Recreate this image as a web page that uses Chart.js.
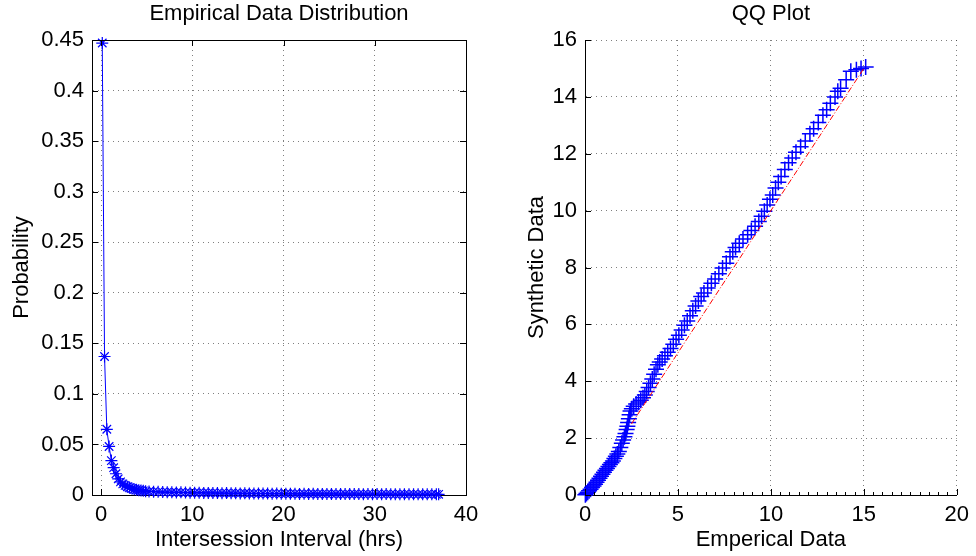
<!DOCTYPE html>
<html lang="en">
<head>
    <meta charset="UTF-8">
    <title>Empirical Data Distribution / QQ Plot</title>
    <script src="https://cdn.jsdelivr.net/npm/chart.js"></script>
    <style>
        body { margin: 0; background: #fff; overflow: hidden; width: 976px; height: 556px; position: relative; }
        canvas { position: absolute; top: 0; }
        #distChart { left: 0; }
        #qqChart { left: 488px; }
    </style>
</head>
<body>
    <canvas id="distChart" width="488" height="556"></canvas>
    <canvas id="qqChart" width="488" height="556"></canvas>

    <script>
        // Empirical distribution (left panel)
        var distX = [0.125, 0.375, 0.625, 0.875, 1.125, 1.375, 1.625, 1.875, 2.125, 2.375,
            2.625, 2.875, 3.125, 3.375, 3.625, 3.875, 4.125, 4.375, 4.625, 4.875,
            5.25, 5.75, 6.25, 6.75, 7.25, 7.75, 8.25, 8.75, 9.25, 9.75,
            10.25, 10.75, 11.25, 11.75, 12.25, 12.75, 13.25, 13.75, 14.25, 14.75,
            15.25, 15.75, 16.25, 16.75, 17.25, 17.75, 18.25, 18.75, 19.25, 19.75,
            20.25, 20.75, 21.25, 21.75, 22.25, 22.75, 23.25, 23.75, 24.25, 24.75,
            25.25, 25.75, 26.25, 26.75, 27.25, 27.75, 28.25, 28.75, 29.25, 29.75,
            30.25, 30.75, 31.25, 31.75, 32.25, 32.75, 33.25, 33.75, 34.25, 34.75,
            35.25, 35.75, 36.25, 36.75, 37.0];
        var distY = [0.447, 0.137, 0.065, 0.048, 0.034, 0.027, 0.021, 0.016, 0.013, 0.011,
            0.0095, 0.0082, 0.0072, 0.0064, 0.0057, 0.0052, 0.0048, 0.0044, 0.0041, 0.0038,
            0.0035, 0.0033, 0.0031, 0.0029, 0.0028, 0.0027, 0.0025, 0.0026, 0.0024, 0.0023,
            0.0022, 0.0023, 0.0021, 0.0020, 0.0021, 0.0019, 0.0018, 0.0019, 0.0017, 0.0018,
            0.0016, 0.0017, 0.0015, 0.0016, 0.0014, 0.0015, 0.0014, 0.0013, 0.0014, 0.0013,
            0.0012, 0.0013, 0.0012, 0.0011, 0.0012, 0.0011, 0.0012, 0.0010, 0.0011, 0.0010,
            0.0011, 0.0010, 0.0009, 0.0010, 0.0009, 0.0010, 0.0009, 0.0008, 0.0009, 0.0008,
            0.0009, 0.0008, 0.0009, 0.0008, 0.0007, 0.0008, 0.0008, 0.0007, 0.0008, 0.0007,
            0.0007, 0.0008, 0.0007, 0.0007, 0.0007];
        var distXTicks = [0, 10, 20, 30, 40];

        // QQ plot (right panel)
        var qqEmp = [0.02, 0.08, 0.15, 0.22, 0.3, 0.38, 0.46, 0.54, 0.62, 0.7,
            0.78, 0.86, 0.94, 1.02, 1.1, 1.18, 1.26, 1.34, 1.42, 1.5,
            1.58, 1.66, 1.74, 1.82, 1.9, 1.98, 2.05, 2.12, 2.18, 2.24, 2.28, 2.32,
            2.36, 2.4, 2.45, 2.52, 2.62, 2.75, 2.88, 3.0, 3.12, 3.22,
            3.32, 3.42, 3.52, 3.62, 3.72, 3.82, 3.92,
            4.02, 4.15, 4.3, 4.45, 4.6, 4.75, 4.9, 5.05, 5.2, 5.35,
            5.5, 5.65, 5.8, 5.95, 6.1, 6.25, 6.4, 6.6, 6.8, 7.0,
            7.2, 7.4, 7.6, 7.8, 7.95, 8.1, 8.3, 8.5, 8.75, 8.95,
            9.15, 9.35, 9.5, 9.65, 9.8, 9.95, 10.1, 10.25, 10.4, 10.55,
            10.75, 10.95, 11.15, 11.35, 11.6, 11.85, 12.1, 12.3, 12.55, 12.8,
            13.0, 13.2, 13.45, 13.6, 13.75, 14.05, 14.3, 14.6, 14.85, 15.1];
        var qqSyn = [0.01, 0.05, 0.1, 0.15, 0.2, 0.26, 0.32, 0.38, 0.45, 0.52,
            0.59, 0.66, 0.73, 0.8, 0.87, 0.93, 1.0, 1.07, 1.13, 1.2,
            1.28, 1.36, 1.44, 1.53, 1.67, 1.82, 1.93, 2.05, 2.16, 2.3, 2.42, 2.55,
            2.68, 2.82, 2.95, 3.03, 3.12, 3.2, 3.27, 3.33, 3.42, 3.52,
            3.64, 3.78, 3.93, 4.08, 4.25, 4.42, 4.58,
            4.68, 4.78, 4.9, 5.02, 5.15, 5.3, 5.48, 5.62, 5.8, 5.97,
            6.12, 6.3, 6.48, 6.65, 6.82, 6.98, 7.1, 7.28, 7.45, 7.6,
            7.78, 7.98, 8.15, 8.38, 8.55, 8.7, 8.85, 9.0, 9.15, 9.3,
            9.45, 9.62, 9.8, 9.98, 10.2, 10.4, 10.55, 10.8, 11.0, 11.2,
            11.45, 11.68, 11.85, 12.05, 12.25, 12.45, 12.7, 12.88, 13.1, 13.35,
            13.55, 13.78, 14.0, 14.2, 14.3, 14.6, 14.9, 14.95, 15.0, 15.05];
        var refLineX = [2.5, 15];
        var refLineY = [2.5, 15];
        var qqXTicks = [0, 5, 10, 15, 20];
        var qqYTicks = [0, 2, 4, 6, 8, 10, 12, 14, 16];

        Chart.defaults.color = '#000';
        Chart.defaults.font.family = "'Liberation Sans', Arial, sans-serif";

        function toPoints(xs, ys) {
            return xs.map(function(x, i) { return { x: x, y: ys[i] }; });
        }

        // inner ticks, optional box and minor ticks (MATLAB style axes)
        var axesDeco = {
            id: 'axesDeco',
            afterDraw: function(chart, args, opts) {
                var ctx = chart.ctx, a = chart.chartArea;
                var sx = chart.scales.x, sy = chart.scales.y;
                var r = function(v) { return Math.round(v) + 0.5; };
                ctx.save();
                ctx.strokeStyle = '#000';
                ctx.lineWidth = 1;
                ctx.beginPath();
                if (opts.box) {
                    ctx.moveTo(r(a.left), r(a.top)); ctx.lineTo(r(a.right), r(a.top));
                    ctx.moveTo(r(a.right), r(a.top)); ctx.lineTo(r(a.right), r(a.bottom));
                }
                sx.ticks.forEach(function(t) {
                    var px = r(sx.getPixelForValue(t.value));
                    ctx.moveTo(px, a.bottom); ctx.lineTo(px, a.bottom - 6);
                    if (opts.box) { ctx.moveTo(px, a.top); ctx.lineTo(px, a.top + 6); }
                });
                sy.ticks.forEach(function(t) {
                    var py = r(sy.getPixelForValue(t.value));
                    ctx.moveTo(a.left, py); ctx.lineTo(a.left + 6, py);
                    if (opts.box) { ctx.moveTo(a.right, py); ctx.lineTo(a.right - 6, py); }
                });
                if (opts.minorX) {
                    for (var v = sx.min; v <= sx.max + 1e-9; v += opts.minorX) {
                        var px = r(sx.getPixelForValue(v));
                        ctx.moveTo(px, a.bottom); ctx.lineTo(px, a.bottom - 3);
                    }
                }
                ctx.stroke();
                ctx.restore();
            }
        };

        // dotted grid, solid axis line
        var gridStyle = { color: 'rgba(0, 0, 0, 0.5)', lineWidth: 1, drawTicks: false };
        var borderStyle = { display: true, color: '#000', width: 1, dash: [1, 4] };
        var titleStyle = { size: 22, weight: 'normal' };

        // Left panel
        new Chart(document.getElementById('distChart').getContext('2d'), {
            type: 'line',
            data: {
                datasets: [{
                    data: toPoints(distX, distY),
                    borderColor: 'rgb(0, 0, 255)',
                    backgroundColor: 'rgb(0, 0, 255)',
                    borderWidth: 1,
                    pointStyle: 'star',
                    pointRadius: 6,
                    pointBorderWidth: 1.2,
                    pointBorderColor: 'rgb(0, 0, 255)',
                    tension: 0,
                    fill: false,
                    clip: false
                }]
            },
            options: {
                responsive: false,
                animation: false,
                events: [],
                layout: { padding: { left: 0, right: 22, top: 0, bottom: 0 } },
                plugins: {
                    legend: { display: false },
                    tooltip: { enabled: false },
                    title: {
                        display: true,
                        fullSize: false,
                        text: 'Empirical Data Distribution',
                        font: titleStyle,
                        padding: { top: 1, bottom: 12.6 }
                    },
                    axesDeco: { box: true }
                },
                scales: {
                    x: {
                        type: 'linear',
                        min: -1,
                        max: 40,
                        afterBuildTicks: function(s) { s.ticks = distXTicks.map(function(v) { return { value: v }; }); },
                        afterFit: function(s) { s.height = 61; },
                        ticks: { font: { size: 22 }, padding: 7, maxRotation: 0 },
                        grid: gridStyle,
                        border: borderStyle,
                        title: { display: true, text: 'Intersession Interval (hrs)', font: { size: 22 }, padding: { top: 0, bottom: 3 } }
                    },
                    y: {
                        min: 0,
                        max: 0.45,
                        afterFit: function(s) { s.width = 92; },
                        ticks: {
                            stepSize: 0.05,
                            font: { size: 22 },
                            padding: 8,
                            callback: function(v) { return String(Number(v.toFixed(2))); }
                        },
                        grid: gridStyle,
                        border: borderStyle,
                        title: { display: true, text: 'Probability', font: { size: 22 }, padding: { top: 9, bottom: 0 } }
                    }
                }
            },
            plugins: [axesDeco]
        });

        // Right panel
        new Chart(document.getElementById('qqChart').getContext('2d'), {
            type: 'scatter',
            data: {
                datasets: [{
                    type: 'line',
                    data: toPoints(refLineX, refLineY),
                    borderColor: 'rgb(255, 0, 0)',
                    borderWidth: 1,
                    borderDash: [6, 2, 1, 2],
                    pointRadius: 0,
                    fill: false
                }, {
                    data: toPoints(qqEmp, qqSyn),
                    pointStyle: 'cross',
                    pointRadius: 8,
                    pointBorderWidth: 1.5,
                    pointBorderColor: 'rgb(0, 0, 255)',
                    pointBackgroundColor: 'rgb(0, 0, 255)',
                    showLine: false,
                    clip: false
                }]
            },
            options: {
                responsive: false,
                animation: false,
                events: [],
                layout: { padding: { left: 0, right: 18, top: 0, bottom: 0 } },
                plugins: {
                    legend: { display: false },
                    tooltip: { enabled: false },
                    title: {
                        display: true,
                        fullSize: false,
                        text: 'QQ Plot',
                        font: titleStyle,
                        padding: { top: 1, bottom: 12.6 }
                    },
                    axesDeco: { box: false, minorX: 0.5 }
                },
                scales: {
                    x: {
                        type: 'linear',
                        min: 0,
                        max: 20,
                        afterBuildTicks: function(s) { s.ticks = qqXTicks.map(function(v) { return { value: v }; }); },
                        afterFit: function(s) { s.height = 61; },
                        ticks: { font: { size: 22 }, padding: 7, maxRotation: 0 },
                        grid: gridStyle,
                        border: borderStyle,
                        title: { display: true, text: 'Emperical Data', font: { size: 22 }, padding: { top: 0, bottom: 3 } }
                    },
                    y: {
                        min: 0,
                        max: 16,
                        afterBuildTicks: function(s) { s.ticks = qqYTicks.map(function(v) { return { value: v }; }); },
                        afterFit: function(s) { s.width = 97; },
                        ticks: { font: { size: 22 }, padding: 8 },
                        grid: gridStyle,
                        border: borderStyle,
                        title: { display: true, text: 'Synthetic Data', font: { size: 22 }, padding: { top: 36, bottom: 0 } }
                    }
                }
            },
            plugins: [axesDeco]
        });
    </script>
</body>
</html>
